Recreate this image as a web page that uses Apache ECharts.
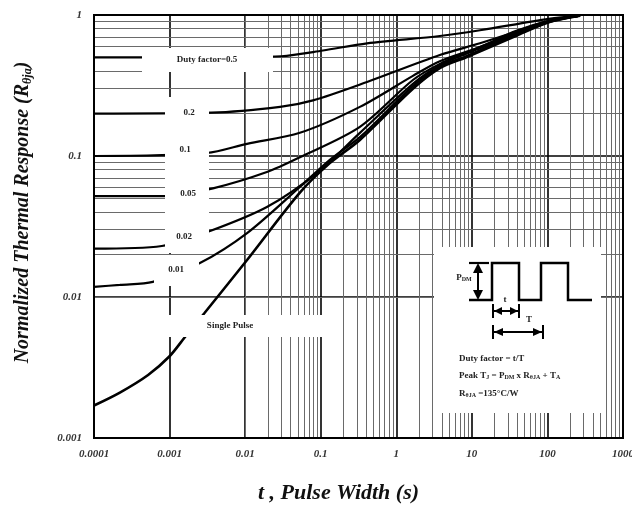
<!DOCTYPE html>
<html><head><meta charset="utf-8">
<script src="https://cdn.jsdelivr.net/npm/echarts@6/dist/echarts.min.js"></script>
<style>html,body{margin:0;padding:0;background:#fff}#c{width:632px;height:508px}</style>
</head><body><div id="c"></div>
<script>
// ---- data ----
const xTickLabels = ['0.0001','0.001','0.01','0.1','1','10','100','1000'];
const yTickLabels = ['0.001','0.01','0.1','1'];
const seriesNames = ['Duty factor=0.5','0.2','0.1','0.05','0.02','0.01','Single Pulse'];

const tD50 = [1e-4, 0.003, 0.03, 0.107, 0.41, 3.77, 12.8, 104, 270];
const rD50 = [0.50, 0.50, 0.51, 0.56, 0.63, 0.71, 0.78, 0.94, 0.99];

const tD20 = [1e-4, 3.6e-3, 0.029, 0.079, 0.41, 3.77, 12.8, 38, 104, 270];
const rD20 = [0.20, 0.203, 0.223, 0.248, 0.335, 0.52, 0.63, 0.76, 0.91, 0.99];

const tD10 = [1e-4, 3.1e-3, 0.0106, 0.053, 0.33, 1.66, 3.77, 12.8, 38, 104, 270];
const rD10 = [0.10, 0.105, 0.122, 0.146, 0.223, 0.37, 0.47, 0.593, 0.77, 0.91, 0.99];

const tD05 = [1e-4, 8.7e-4, 3.75e-3, 0.0194, 0.053, 0.33, 1.66, 3.77, 8.3, 38, 104, 270];
const rD05 = [0.052, 0.052, 0.059, 0.077, 0.098, 0.161, 0.346, 0.45, 0.54, 0.745, 0.90, 0.99];

const tD02 = [1e-4, 7.9e-4, 3.22e-3, 0.0194, 0.089, 0.33, 1.66, 3.77, 8.3, 38, 104, 270];
const rD02 = [0.022, 0.023, 0.029, 0.0435, 0.0757, 0.146, 0.325, 0.44, 0.53, 0.73, 0.90, 0.99];

const tD01 = [1e-4, 2.2e-4, 6.0e-4, 2.52e-3, 0.0106, 0.053, 0.132, 0.33, 1.66, 3.77, 8.3, 38, 104, 270];
const rD01 = [0.0118, 0.0122, 0.0128, 0.0174, 0.0284, 0.0603, 0.094, 0.136, 0.313, 0.43, 0.51, 0.72, 0.89, 0.99];

const tSP = [1e-4, 2.2e-4, 5.2e-4, 1e-3, 1.6e-3, 2.9e-3, 0.0106, 0.053, 0.132, 0.33, 1.66, 3.77, 8.3, 38, 104, 270];
const rSP = [0.0017, 0.0021, 0.0028, 0.0038, 0.0052, 0.0077, 0.0183, 0.055, 0.089, 0.13, 0.30, 0.42, 0.50, 0.71, 0.89, 0.99];

// ---- build ----
const curves = [[tD50,rD50],[tD20,rD20],[tD10,rD10],[tD05,rD05],[tD02,rD02],[tD01,rD01],[tSP,rSP]];
const minorX = [], minorY = [];
for (let e = -4; e < 3; e++) for (let m = 2; m <= 9; m++) minorX.push(+(m * Math.pow(10, e)).toPrecision(3));
for (let e = -3; e < 0; e++) for (let m = 2; m <= 9; m++) minorY.push(+(m * Math.pow(10, e)).toPrecision(3));

const serif = 'Liberation Serif';
const lblStyle = {fontFamily: serif, fontStyle: 'italic', fontWeight: 'bold', fontSize: 11, color: '#333'};

const series = curves.map((c, i) => ({
  name: seriesNames[i], type: 'line', smooth: 0.3, showSymbol: false, z: 5,
  lineStyle: {color: '#000', width: i === 6 ? 2.6 : 2.2},
  data: c[0].map((t, k) => [t, c[1][k]])
}));
series.unshift({
  type: 'line', data: [], z: 1, silent: true,
  markLine: {silent: true, symbol: ['none','none'], label: {show: false}, animation: false,
    lineStyle: {color: '#6a6a6a', width: 1, type: 'solid'},
    data: minorX.map(v => ({xAxis: v})).concat(minorY.map(v => ({yAxis: v})))}
});

function xLabel(v){ const i = Math.round(Math.log10(v)) + 4; return xTickLabels[i] || ''; }
function yLabel(v){ const i = Math.round(Math.log10(v)) + 3; return yTickLabels[i] || ''; }

const whiteBox = (x, y, w, h) => ({type:'rect', z: 50, shape:{x, y, width:w, height:h}, style:{fill:'#fff'}});
const txt = (x, y, text, size, extra) => Object.assign({type:'text', z: 60, x, y,
  style: Object.assign({text, fill:'#222', font: 'bold ' + size + 'px ' + serif, align:'center', verticalAlign:'middle'}, extra || {})});
const line = (pts, w) => ({type:'polyline', z: 60, shape:{points: pts}, style:{stroke:'#000', lineWidth: w || 2, fill: null}});
const tri = (pts) => ({type:'polygon', z: 60, shape:{points: pts}, style:{fill:'#000'}});
const sub = {s:{font:'bold 6px ' + serif, verticalAlign:'bottom'}};

const graphics = [
  // label boxes
  whiteBox(142, 48, 131, 24), txt(207, 60, 'Duty factor=0.5', 9),
  whiteBox(165, 97, 44, 156),
  txt(189, 113, '0.2', 9), txt(185, 150, '0.1', 9), txt(188, 194, '0.05', 9), txt(184, 237, '0.02', 9),
  whiteBox(154, 255, 45, 31), txt(176, 270, '0.01', 9),
  whiteBox(142, 315, 183, 22), txt(230, 326, 'Single Pulse', 9),
  // inset
  whiteBox(434, 247, 167, 166),
  line([[469,300],[492,300],[492,263],[519,263],[519,300],[541,300],[541,263],[568,263],[568,300],[592,300]], 2.5),
  line([[469,263],[489,263]], 2.2),
  line([[478,267],[478,296]], 2), tri([[478,263],[473,273],[483,273]]), tri([[478,300],[473,290],[483,290]]),
  txt(464, 278, 'P{s|DM}', 9, {rich: sub}),
  line([[494,311],[518,311]], 2), line([[493,304],[493,318]], 2), line([[519,304],[519,318]], 2),
  tri([[494,311],[502,307],[502,315]]), tri([[518,311],[510,307],[510,315]]),
  txt(505, 300, 't', 9),
  line([[494,332],[542,332]], 2), line([[493,325],[493,339]], 2), line([[543,325],[543,339]], 2),
  tri([[494,332],[503,328],[503,336]]), tri([[542,332],[533,328],[533,336]]),
  txt(529, 320, 'T', 9),
  txt(459, 359, 'Duty factor = t/T', 9, {align:'left'}),
  txt(459, 376, 'Peak T{s|J} = P{s|DM} x R{s|θJA} + T{s|A}', 9, {align:'left', rich: sub}),
  txt(459, 394, 'R{s|θJA} =135°C/W', 9, {align:'left', rich: sub})
];

const chart = echarts.init(document.getElementById('c'), null, {renderer: 'canvas'});
chart.setOption({
  animation: false,
  backgroundColor: '#fff',
  grid: {left: 94, top: 15, right: 9, bottom: 70, show: true, borderColor: '#000', borderWidth: 2, backgroundColor: 'transparent', z: 10,
    containLabel: false, outerBoundsMode: 'none'},
  xAxis: {
    type: 'log', logBase: 10, min: 1e-4, max: 1000,
    name: 't , Pulse Width (s)', nameLocation: 'middle', nameGap: 44,
    nameTextStyle: {fontFamily: serif, fontStyle: 'italic', fontWeight: 'bold', fontSize: 22, color: '#111', padding: [0, 40, 0, 0]},
    axisLine: {show: false}, axisTick: {show: false},
    axisLabel: Object.assign({formatter: xLabel, margin: 11, showMinLabel: true, showMaxLabel: true}, lblStyle),
    splitLine: {show: true, lineStyle: {color: '#000', width: 1.6}}
  },
  yAxis: {
    type: 'log', logBase: 10, min: 0.001, max: 1,
    name: 'Normalized Thermal Response (R{s|θja})', nameLocation: 'middle', nameGap: 60, nameRotate: 90,
    nameTextStyle: {fontFamily: serif, fontStyle: 'italic', fontWeight: 'bold', fontSize: 20, color: '#111', padding: [0, 0, 0, 28],
      rich: {s: {fontFamily: serif, fontStyle: 'italic', fontWeight: 'bold', fontSize: 12, color: '#111', verticalAlign: 'bottom', padding: [10, 0, 0, 0]}}},
    axisLine: {show: false}, axisTick: {show: false},
    axisLabel: Object.assign({formatter: yLabel, margin: 12}, lblStyle),
    splitLine: {show: true, lineStyle: {color: '#000', width: 1.6}}
  },
  series: series,
  graphic: graphics
});
</script>
</body></html>
